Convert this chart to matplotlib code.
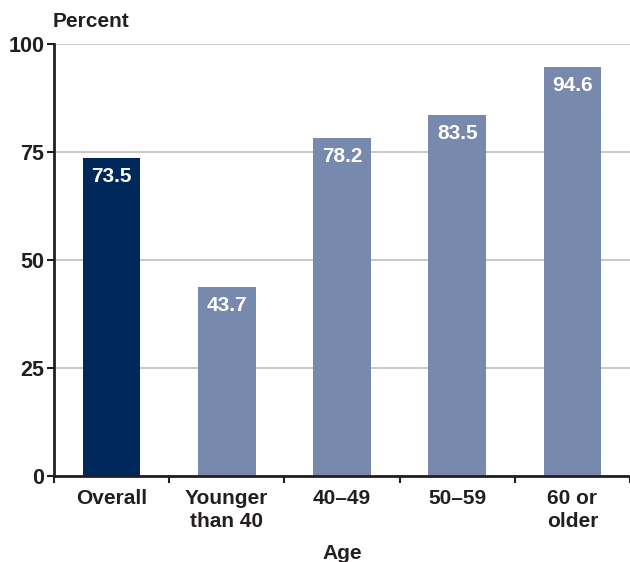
import matplotlib.pyplot as plt

categories = ['Overall', 'Younger\nthan 40', '40–49', '50–59', '60 or\nolder']
values = [73.5, 43.7, 78.2, 83.5, 94.6]
yticks = [0, 25, 50, 75, 100]

plt.rcParams['font.family'] = ['Liberation Sans', 'DejaVu Sans']
plt.rcParams['font.weight'] = 'bold'

fig = plt.figure(figsize=(6.3, 5.62), dpi=100)
ax = fig.add_axes([0.0857, 0.153, 0.9143, 0.7687])

colors = ['#00285a'] + ['#7889ae'] * (len(values) - 1)
x = list(range(len(values)))
bars = ax.bar(x, values, width=0.5, color=colors, zorder=3)

for xi, v in zip(x, values):
    ax.text(xi, v - 2.0, f'{v:.1f}', ha='center', va='top', color='white',
            fontsize=15, fontweight='bold', zorder=4)

ax.set_xlim(-0.5, len(values) - 0.5)
ax.set_ylim(0, 100)
ax.set_yticks(yticks)
ax.set_yticklabels([str(t) for t in yticks], fontsize=15.5, fontweight='bold', color='#231f20')
ax.set_xticks([i - 0.5 for i in range(len(values) + 1)])
ax.set_xticklabels([])
ax.set_xticks(x, minor=True)
ax.set_xticklabels(categories, minor=True, fontsize=15, fontweight='bold', color='#231f20',
                   linespacing=1.3)
ax.tick_params(axis='x', which='minor', length=0, pad=9)
ax.tick_params(axis='x', which='major', length=5, width=1.5, color='#231f20')
ax.tick_params(axis='y', length=5, width=1.5, color='#231f20', pad=2)

ax.yaxis.grid(True, color='#bcbec0', linewidth=1.2, zorder=0)
for s in ['top', 'right']:
    ax.spines[s].set_visible(False)
for s in ['left', 'bottom']:
    ax.spines[s].set_linewidth(2)
    ax.spines[s].set_color('#231f20')
    ax.spines[s].set_zorder(5)

fig.text(0.083, 0.962, 'Percent', ha='left', va='center', fontsize=15, fontweight='bold', color='#231f20')
fig.text(0.543, 0.016, 'Age', ha='center', va='center', fontsize=15, fontweight='bold', color='#231f20')

fig.savefig('out.png', dpi=100)
